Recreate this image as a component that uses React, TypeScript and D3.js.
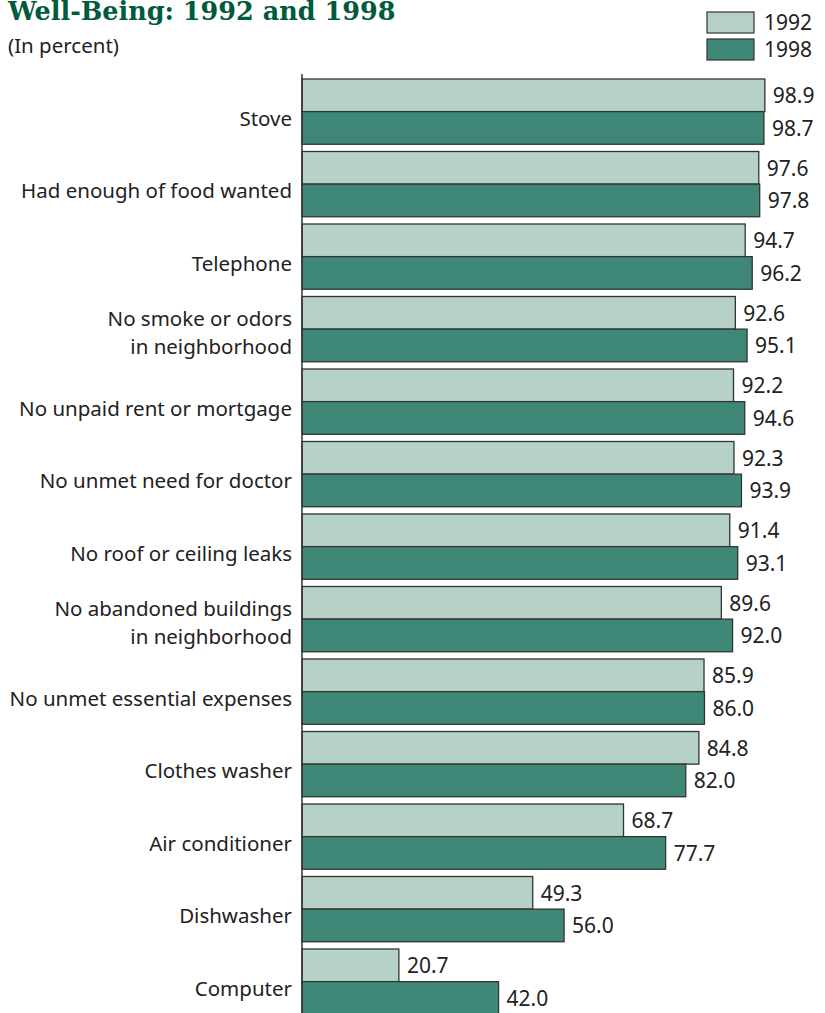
import React from "react";
import * as d3 from "d3";

const categories: string[][] = [
  ["Stove"],
  ["Had enough of food wanted"],
  ["Telephone"],
  ["No smoke or odors", "in neighborhood"],
  ["No unpaid rent or mortgage"],
  ["No unmet need for doctor"],
  ["No roof or ceiling leaks"],
  ["No abandoned buildings", "in neighborhood"],
  ["No unmet essential expenses"],
  ["Clothes washer"],
  ["Air conditioner"],
  ["Dishwasher"],
  ["Computer"],
];
const values1992 = [98.9, 97.6, 94.7, 92.6, 92.2, 92.3, 91.4, 89.6, 85.9, 84.8, 68.7, 49.3, 20.7];
const values1998 = [98.7, 97.8, 96.2, 95.1, 94.6, 93.9, 93.1, 92.0, 86.0, 82.0, 77.7, 56.0, 42.0];
const seriesNames = ["1992", "1998"];

const COLORS = ["#b5d1c8", "#3f8877"];
const FONT = "'Noto Sans', 'Open Sans', sans-serif";

export default function App() {
  const W = 825, H = 1013;
  const x0 = 302;
  const x = d3.scaleLinear().domain([0, 100]).range([x0, x0 + 468]);
  const step = 72.5;
  const n = categories.length;
  const y = d3.scaleBand<number>()
    .domain(d3.range(n))
    .range([79, 79 + step * (n - 0.1)])
    .paddingInner(0.1)
    .paddingOuter(0);
  const barH = y.bandwidth() / 2;
  return (
    <svg width={W} height={H} style={{ position: "absolute", left: 0, top: 0, background: "#fff" }}>
      <text x={8} y={20} fontFamily="'DejaVu Serif', serif" fontWeight="bold" fontSize={25.5} fill="#005a3c">
        Well-Being: 1992 and 1998
      </text>
      <text x={8} y={53} fontFamily={FONT} fontSize={20.5} fill="#222">(In percent)</text>
      {seriesNames.map((s, i) => (
        <g key={s}>
          <rect x={707} y={12 + i * 27} width={47} height={21} fill={COLORS[i]} stroke="#333" strokeWidth={1.2} />
          <text x={764} y={30 + i * 27} fontFamily={FONT} fontSize={21} fill="#222">{s}</text>
        </g>
      ))}
      {categories.map((lines, i) => {
        const top = y(i)!;
        const c = top + barH;
        return (
          <g key={i}>
            {[values1992[i], values1998[i]].map((v, j) => (
              <g key={j}>
                <rect x={x(0)} y={top + j * barH} width={x(v) - x(0)} height={barH}
                  fill={COLORS[j]} stroke="#333" strokeWidth={1.3} />
                <text x={x(v) + 8} y={top + j * barH + barH / 2 + 8} fontFamily={FONT} fontSize={21} fill="#222">
                  {v.toFixed(1)}
                </text>
              </g>
            ))}
            {lines.length === 1 ? (
              <text x={292} y={c + 14} textAnchor="end" fontFamily={FONT} fontSize={20.5} fill="#222">{lines[0]}</text>
            ) : (
              lines.map((l, k) => (
                <text key={k} x={292} y={c - 3 + k * 28} textAnchor="end" fontFamily={FONT} fontSize={20.5} fill="#222">{l}</text>
              ))
            )}
          </g>
        );
      })}
      <line x1={x0} x2={x0} y1={74} y2={H} stroke="#333" strokeWidth={1.5} />
    </svg>
  );
}
